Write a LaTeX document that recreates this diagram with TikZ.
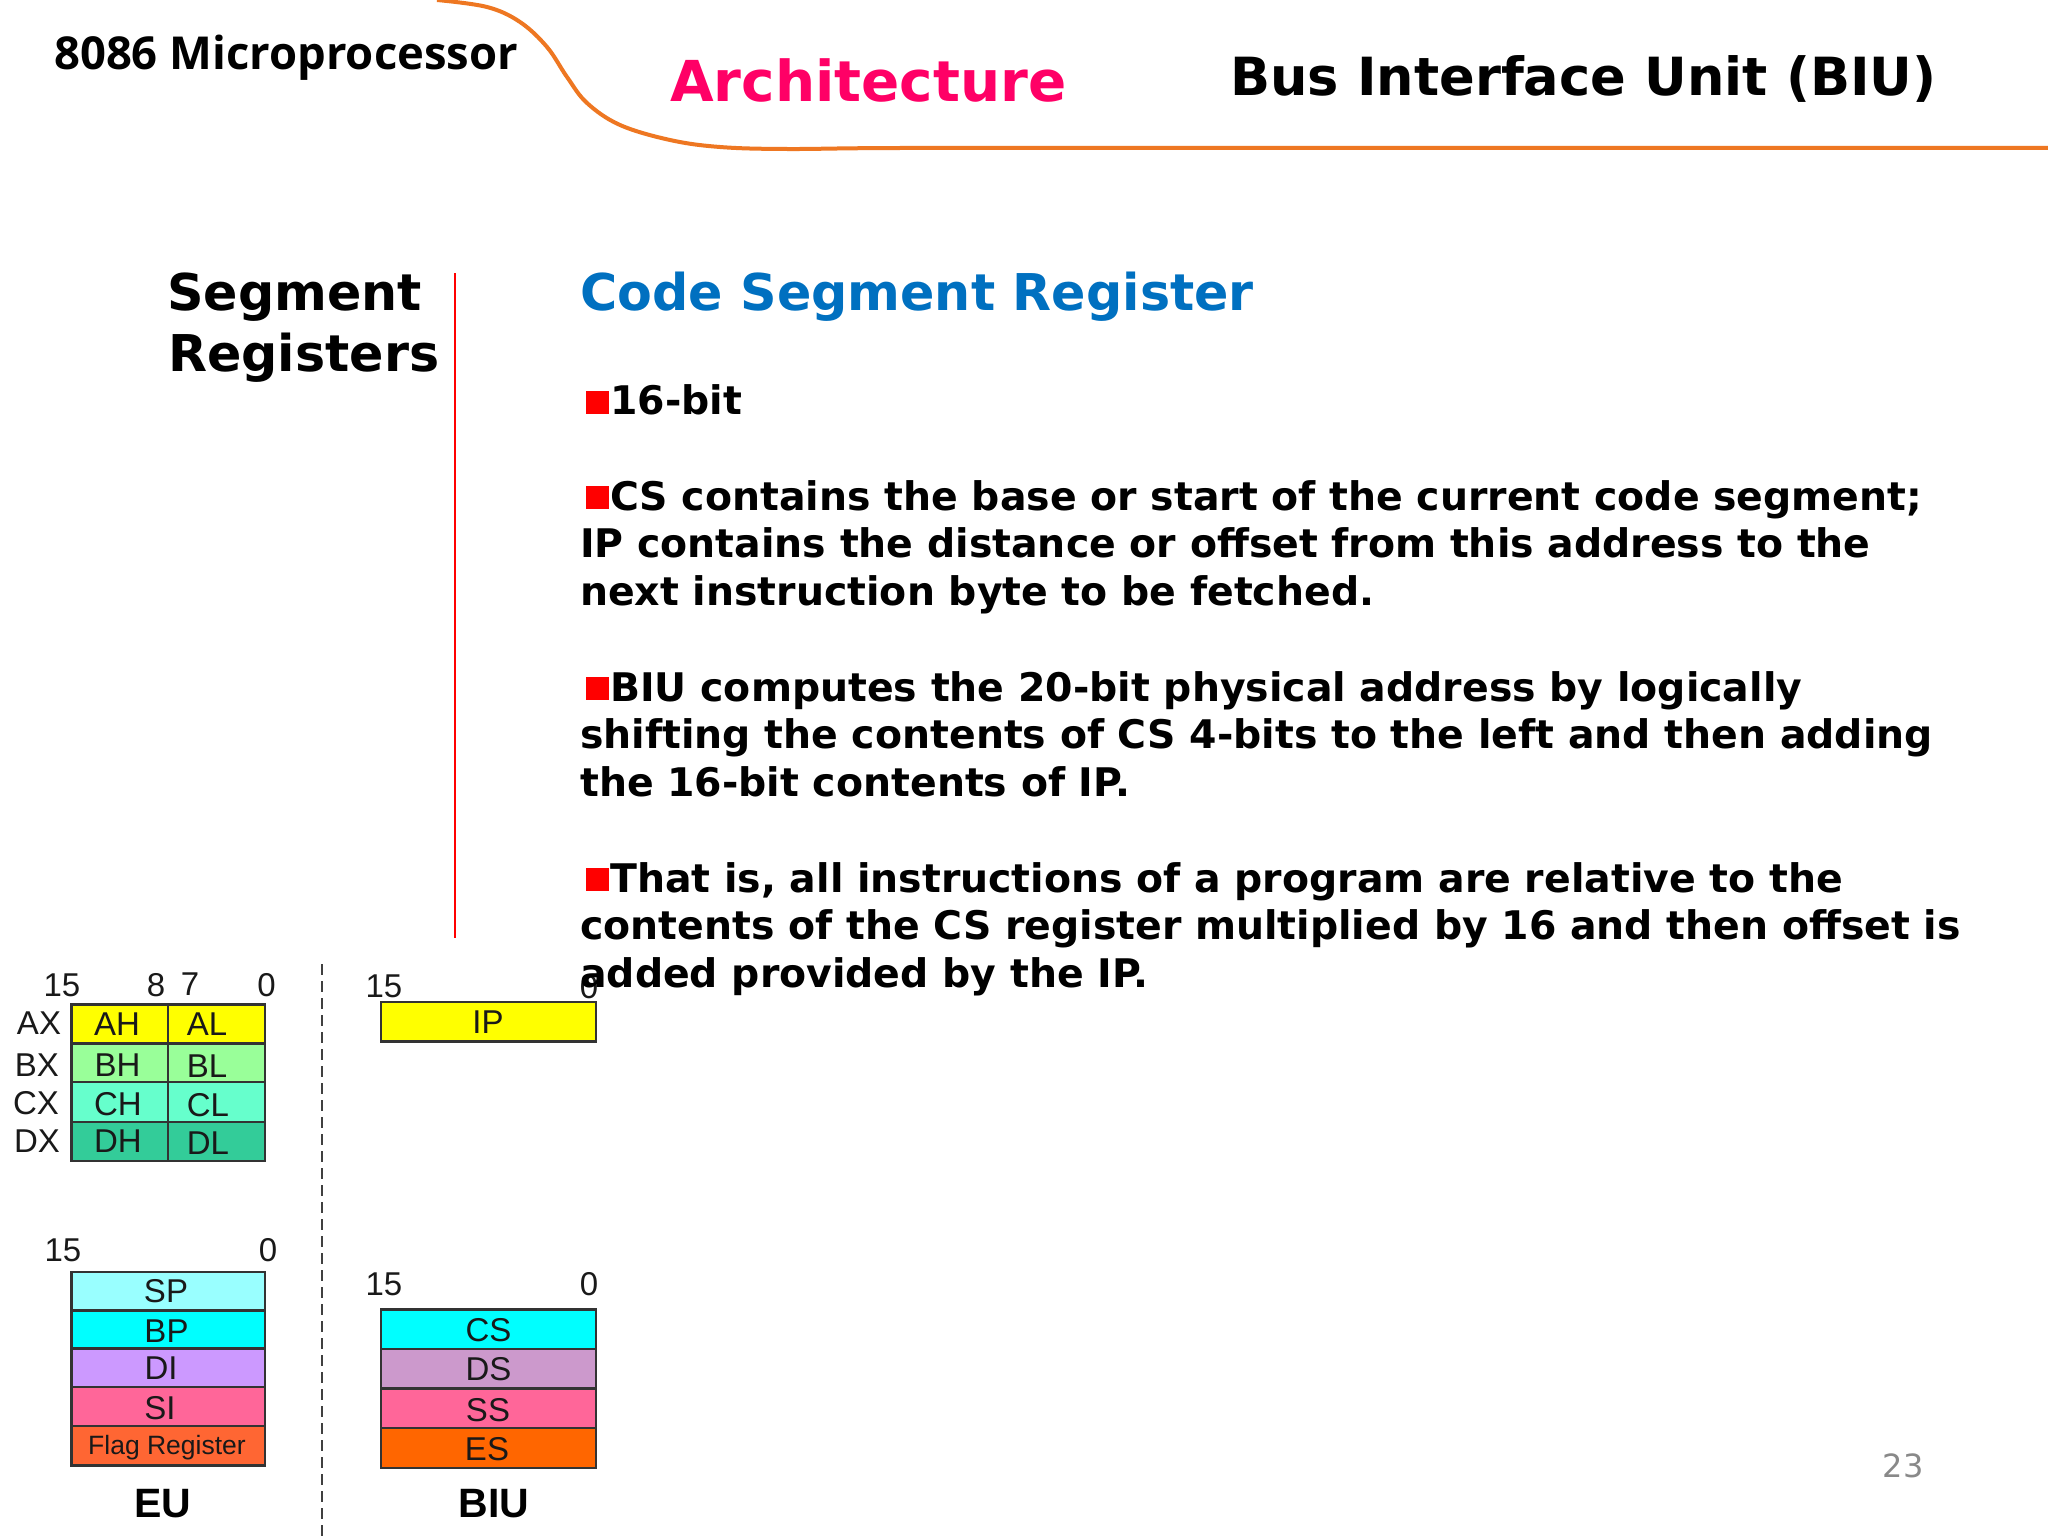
\documentclass[tikz,border=0pt]{standalone}
\usepackage{fontspec}
\setmainfont{DejaVu Sans}
\newfontfamily\arialf{Liberation Sans}
\newfontfamily\openf{Open Sans}
\definecolor{curveor}{HTML}{EE7722}
\definecolor{archpink}{HTML}{FF0066}
\definecolor{codeblue}{HTML}{0070C0}
\definecolor{pgray}{HTML}{898989}
\tikzset{
 x=1pt,y=-1pt,
 reg/.style={draw=black!80,line width=2.2pt},
 lab/.style={font=\arialf\fontsize{33}{38}\selectfont,inner sep=0pt,anchor=center,text=black!90},
 small/.style={font=\arialf\fontsize{26.5}{30}\selectfont,inner sep=0pt,anchor=center,text=black!90},
 unitlab/.style={font=\arialf\bfseries\fontsize{41}{46}\selectfont,inner sep=0pt,anchor=center},
 body/.style={font=\bfseries\fontsize{39.4}{46}\selectfont,inner sep=0pt,anchor=base west},
 head/.style={font=\bfseries\fontsize{50.7}{58}\selectfont,inner sep=0pt,anchor=base west},
 bulletbox/.style={fill=red,inner sep=0pt,minimum width=23pt,minimum height=23pt,anchor=north west}
}
\newcommand{\regbox}[5]{\fill[#5] (#1,#2) rectangle (#3,#4); \draw[reg] (#1,#2) rectangle (#3,#4);}
\begin{document}
\begin{tikzpicture}
\useasboundingbox (0,0) rectangle (2048,1536);
\fill[white] (0,0) rectangle (2048,1536);
% header curve
\draw[curveor,line width=4pt] plot[smooth,tension=0.6] coordinates {(437,0) (487,7) (520,22) (547,47) (567,77) (587,103) (620,125) (670,140) (720,147) (787,149) (900,148) (1200,148) (2048,148)};
\node[inner sep=0pt,anchor=base west,font=\openf\bfseries\fontsize{45.4}{50}\selectfont] (t1) at (54,70) {8086 Microprocessor};
\node[inner sep=0pt,anchor=base west,text=archpink,font=\bfseries\fontsize{56.4}{66}\selectfont] (t2) at (670,102) {Architecture};
\node[inner sep=0pt,anchor=base west,font=\bfseries\fontsize{52.6}{58}\selectfont] (t3) at (1230,96) {Bus Interface Unit (BIU)};
\node[head] (s1) at (167,310) {Segment};
\node[head] (s2) at (168,371) {Registers};
\draw[red,line width=1.8pt] (455,273) -- (455,938);
\node[head,text=codeblue] (code) at (580,310) {Code Segment Register};
% body text
\node[bulletbox] (b1) at (586,390.5) {};
\node[body] (l1) at (610,414) {16-bit};
\node[bulletbox] (b2) at (586,485.5) {};
\node[body] (l2) at (610,510) {CS contains the base or start of the current code segment;};
\node[body] (l3) at (580,557) {IP contains the distance or offset from this address to the};
\node[body] (l4) at (580,605) {next instruction byte to be fetched.};
\node[bulletbox] (b3) at (586,676.5) {};
\node[body] (l5) at (610,701) {BIU computes the 20-bit physical address by logically};
\node[body] (l6) at (580,748) {shifting the contents of CS 4-bits to the left and then adding};
\node[body] (l7) at (580,796) {the 16-bit contents of IP.};
\node[bulletbox] (b4) at (586,867.5) {};
\node[body] (l8) at (610,892) {That is, all instructions of a program are relative to the};
\node[body] (l9) at (580,939) {contents of the CS register multiplied by 16 and then offset is};
% divider
\draw[black!75,line width=2pt,dash pattern=on 11pt off 6pt] (322,964) -- (322,1536);
% general registers
\regbox{71.5}{1004.5}{168}{1043.5}{fill={rgb,255:red,255;green,255;blue,0}}
\regbox{168}{1004.5}{265}{1043.5}{fill={rgb,255:red,255;green,255;blue,0}}
\regbox{71.5}{1043.5}{168}{1082}{fill={rgb,255:red,153;green,255;blue,153}}
\regbox{168}{1043.5}{265}{1082}{fill={rgb,255:red,153;green,255;blue,153}}
\regbox{71.5}{1082}{168}{1122}{fill={rgb,255:red,102;green,255;blue,204}}
\regbox{168}{1082}{265}{1122}{fill={rgb,255:red,102;green,255;blue,204}}
\regbox{71.5}{1122}{168}{1161}{fill={rgb,255:red,51;green,204;blue,153}}
\regbox{168}{1122}{265}{1161}{fill={rgb,255:red,51;green,204;blue,153}}
\node[lab] (n15a) at (62,985.5) {15};
\node[lab] (n8) at (156,985.5) {8};
\node[lab] (n7) at (190,984.5) {7};
\node[lab] (n0a) at (266.5,985.5) {0};
\node[lab] (ax) at (39,1023) {AX};
\node[lab] (bx) at (37,1065) {BX};
\node[lab] (cx) at (36,1103) {CX};
\node[lab] (dx) at (37,1141) {DX};
\node[lab] (ah) at (117,1024) {AH};
\node[lab] (al) at (207,1024) {AL};
\node[lab] (bh) at (117.5,1065) {BH};
\node[lab] (bl) at (207,1066) {BL};
\node[lab] (ch) at (118,1104) {CH};
\node[lab] (cl) at (208,1105) {CL};
\node[lab] (dh) at (118,1141) {DH};
\node[lab] (dl) at (208,1143) {DL};
% IP
\regbox{381}{1002}{596}{1041.5}{fill={rgb,255:red,255;green,255;blue,0}}
\node[lab] (n15b) at (384,986) {15};
\node[lab] (n0b) at (589,987) {0};
\node[lab] (ip) at (488,1022) {IP};
\node[body] (l10) at (580,987) {added provided by the IP.};
% EU pointer registers
\regbox{71.5}{1272}{265}{1310.5}{fill={rgb,255:red,153;green,255;blue,255}}
\regbox{71.5}{1310.5}{265}{1348.5}{fill={rgb,255:red,0;green,255;blue,255}}
\regbox{71.5}{1348.5}{265}{1387}{fill={rgb,255:red,204;green,153;blue,255}}
\regbox{71.5}{1387}{265}{1426}{fill={rgb,255:red,255;green,102;blue,153}}
\regbox{71.5}{1426}{265}{1465.5}{fill={rgb,255:red,255;green,102;blue,51}}
\node[lab] (n15c) at (63,1250) {15};
\node[lab] (n0c) at (268,1250) {0};
\node[lab] (sp) at (166,1291.5) {SP};
\node[lab] (bp) at (166.5,1331.5) {BP};
\node[lab] (di) at (161,1368) {DI};
\node[lab] (si) at (160,1408) {SI};
\node[small] (flag) at (167,1447.5) {Flag Register};
% BIU segment registers
\regbox{381}{1309.5}{596}{1349}{fill={rgb,255:red,0;green,255;blue,255}}
\regbox{381}{1349}{596}{1388.5}{fill={rgb,255:red,204;green,153;blue,204}}
\regbox{381}{1388.5}{596}{1428}{fill={rgb,255:red,255;green,102;blue,153}}
\regbox{381}{1428}{596}{1468}{fill={rgb,255:red,255;green,102;blue,0}}
\node[lab] (n15d) at (384,1284) {15};
\node[lab] (n0d) at (589,1284.5) {0};
\node[lab] (cs) at (488.5,1330.5) {CS};
\node[lab] (ds) at (488.5,1369.5) {DS};
\node[lab] (ss) at (488,1410) {SS};
\node[lab] (es) at (487,1449.5) {ES};
\node[unitlab] (eu) at (163,1504) {EU};
\node[unitlab] (biu) at (494,1504) {BIU};
\node[inner sep=0pt,text=pgray,font=\fontsize{32}{38}\selectfont] (pg) at (1903,1466) {23};
\end{tikzpicture}
\end{document}
